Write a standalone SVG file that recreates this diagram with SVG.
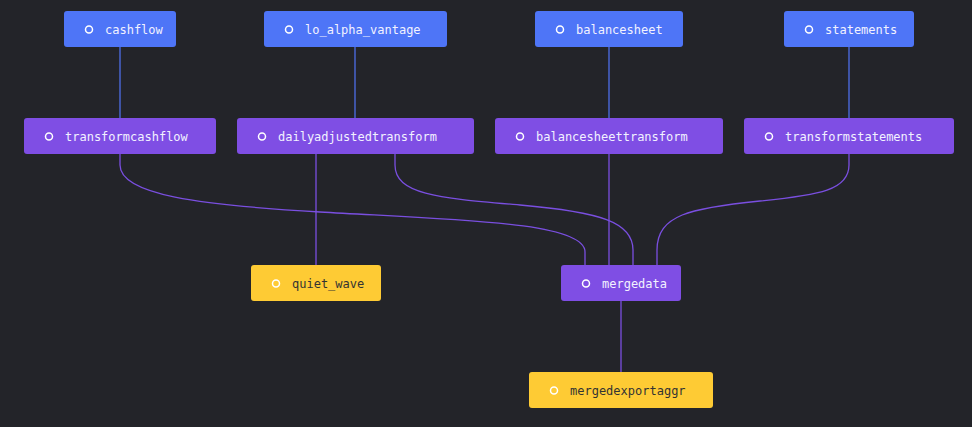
<svg xmlns="http://www.w3.org/2000/svg" width="972" height="427" viewBox="0 0 972 427">
<style>
.bg{fill:#232429}
.n rect{rx:3;ry:3}
.blue rect{fill:#4e75f7}
.purple rect{fill:#7f4ee4}
.yellow rect{fill:#fecb34}
.n circle{fill:none;stroke:#ffffff;stroke-width:1.5}
.n text{font-family:"DejaVu Sans Mono","Liberation Mono",monospace;font-size:12px;fill:#f2f2ff}
.yellow text{fill:#333333}
.e{fill:none;stroke-width:1.3}
.eb{stroke:#4e6fe8}
.ep{stroke:#7a4fe0}
</style>
<rect class="bg" x="0" y="0" width="972" height="427"/>
<g id="edges">
<path class="e eb" d="M120 47 V118"/>
<path class="e eb" d="M355 47 V118"/>
<path class="e eb" d="M609 47 V118"/>
<path class="e eb" d="M849 47 V118"/>
<path class="e ep" d="M316 154 V265"/>
<path class="e ep" d="M120 154 L120 165 C120 195 200 205 320 212 C 460 220 585 222 585 252 L585 265"/>
<path class="e ep" d="M395 154 L395 165 C395 195 440 198 520 205 C 600 212 633 222 633 250 L633 265"/>
<path class="e ep" d="M609 154 V265"/>
<path class="e ep" d="M849 154 L849 165 C849 190 820 195 760 201 C 690 208 657 215 657 250 L657 265"/>
<path class="e ep" d="M621 301 V372"/>
</g>
<g id="cashflow" class="n blue"><rect x="64" y="11" width="112" height="36"/><circle cx="89" cy="29.5" r="3.5"/><text x="105" y="33.5">cashflow</text></g>
<g id="lo_alpha_vantage" class="n blue"><rect x="264" y="11" width="183" height="36"/><circle cx="289" cy="29.5" r="3.5"/><text x="305" y="33.5">lo_alpha_vantage</text></g>
<g id="balancesheet" class="n blue"><rect x="535" y="11" width="148" height="36"/><circle cx="560" cy="29.5" r="3.5"/><text x="576" y="33.5">balancesheet</text></g>
<g id="statements" class="n blue"><rect x="784" y="11" width="130" height="36"/><circle cx="809" cy="29.5" r="3.5"/><text x="825" y="33.5">statements</text></g>
<g id="transformcashflow" class="n purple"><rect x="24" y="118" width="192" height="36"/><circle cx="49" cy="136.5" r="3.5"/><text x="65" y="140.5">transformcashflow</text></g>
<g id="dailyadjustedtransform" class="n purple"><rect x="237" y="118" width="237" height="36"/><circle cx="262" cy="136.5" r="3.5"/><text x="278" y="140.5">dailyadjustedtransform</text></g>
<g id="balancesheettransform" class="n purple"><rect x="495" y="118" width="228" height="36"/><circle cx="520" cy="136.5" r="3.5"/><text x="536" y="140.5">balancesheettransform</text></g>
<g id="transformstatements" class="n purple"><rect x="744" y="118" width="210" height="36"/><circle cx="769" cy="136.5" r="3.5"/><text x="785" y="140.5">transformstatements</text></g>
<g id="quiet_wave" class="n yellow"><rect x="251" y="265" width="130" height="36"/><circle cx="276" cy="283.5" r="3.5"/><text x="292" y="287.5">quiet_wave</text></g>
<g id="mergedata" class="n purple"><rect x="561" y="265" width="120" height="36"/><circle cx="586" cy="283.5" r="3.5"/><text x="602" y="287.5">mergedata</text></g>
<g id="mergedexportaggr" class="n yellow"><rect x="529" y="372" width="184" height="36"/><circle cx="554" cy="390.5" r="3.5"/><text x="570" y="394.5">mergedexportaggr</text></g>
</svg>
